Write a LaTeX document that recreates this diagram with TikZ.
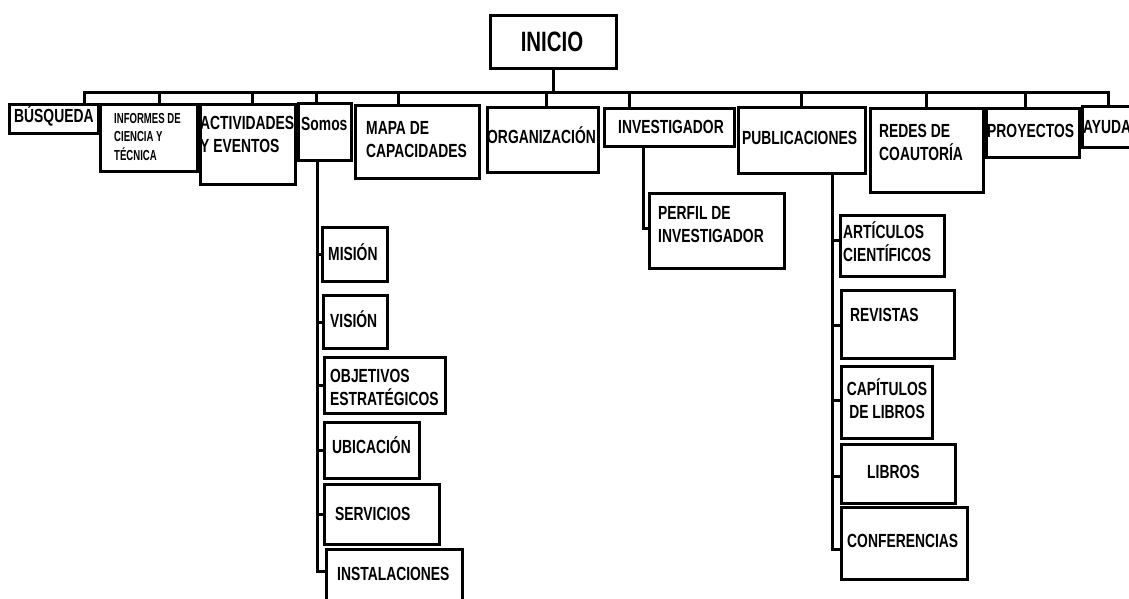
\documentclass[tikz,border=0pt]{standalone}
\usepackage{fontspec}
\newfontfamily\narrowsans{Liberation Sans}[FakeStretch=0.73]
\newfontfamily\narrowersans{Liberation Sans}[FakeStretch=0.66]
% stacked lines whose baseline is the first line
\newcommand\linesL[1]{\begin{tabular}[t]{@{}l@{}}#1\end{tabular}}
\newcommand\linesC[1]{\begin{tabular}[t]{@{}c@{}}#1\end{tabular}}
% box given by its name and its top-left / bottom-right corners
\newcommand\mkbox[5]{\node[box,anchor=north west,minimum width={#4pt-#2pt},minimum height={#5pt-#3pt}] (#1) at (#2,#3) {};}
\begin{document}
\begin{tikzpicture}[x=1pt,y=-1pt,
  box/.style={draw, line width=3pt, inner sep=0pt, fill=white},
  link/.style={line width=3pt, line cap=rect},
  lbl/.style={inner sep=0pt, anchor=base west, font=\narrowsans\bfseries\fontsize{19}{23}\selectfont},
  small/.style={font=\narrowersans\bfseries\fontsize{14.5}{18}\selectfont},
  big/.style={font=\narrowsans\bfseries\fontsize{28}{32}\selectfont}]
\fill[white] (0,0) rectangle (1129,599);
\useasboundingbox (0,0) rectangle (1129,599);

% top level
\mkbox{inicio}{489}{14}{615}{67}
\mkbox{busq}{8}{103}{97}{132}
\mkbox{informes}{99}{103}{196}{170}
\mkbox{activ}{199}{103}{294}{183}
\mkbox{somos}{297}{102}{350}{159}
\mkbox{mapa}{354}{104}{478}{177}
\mkbox{org}{486}{106}{597}{171}
\mkbox{invest}{603}{107}{733}{145}
\mkbox{pub}{737}{106}{864}{172}
\mkbox{redes}{869}{107}{982}{191}
\mkbox{proy}{985}{107}{1078}{156}
\mkbox{ayuda}{1081}{105}{1145}{146}

% under Somos
\mkbox{mision}{321}{226}{386}{280}
\mkbox{vision}{322}{294}{386}{347}
\mkbox{objetivos}{323}{356}{444}{412}
\mkbox{ubicacion}{323}{421}{418}{477}
\mkbox{servicios}{323}{483}{438}{543}
\mkbox{inst}{325}{548}{461}{612}

% under Investigador
\mkbox{perfil}{648}{192}{783}{267}

% under Publicaciones
\mkbox{art}{839}{214}{943}{275}
\mkbox{rev}{840}{289}{953}{357}
\mkbox{cap}{840}{365}{931}{437}
\mkbox{lib}{840}{443}{954}{502}
\mkbox{conf}{840}{506}{966}{578}

% main bus
\coordinate (bus) at (552,93);
\draw[link] (inicio.south) -- (inicio.south |- bus);
\foreach \n/\x in {busq/84, informes/159, activ/252, somos/316, mapa/398, org/546,
                   invest/629, pub/801, redes/926, proy/1025, ayuda/1108} {
  \coordinate (d\n) at (\x,93);
  \draw[link] (d\n) -- (d\n |- \n.north);
}
\draw[link] (dbusq) -- (dayuda);

% Somos branch
\coordinate (sbot) at (317,571);
\draw[link] (sbot |- somos.south) -- (sbot);
\foreach \n in {mision, vision, objetivos, ubicacion, servicios}
  \draw[link] (sbot |- \n.west) -- (\n.west);
\draw[link] (sbot) -- (sbot -| inst.west);

% Investigador branch
\coordinate (pturn) at (643,228);
\draw[link] (pturn |- invest.south) -- (pturn) -- (pturn -| perfil.west);

% Publicaciones branch
\coordinate (pbot) at (832,549);
\draw[link] (pbot |- pub.south) -- (pbot);
\foreach \n/\y in {art/240, rev/325, cap/400, lib/476} {
  \coordinate (t\n) at (832,\y);
  \draw[link] (t\n) -- (t\n -| \n.west);
}
\draw[link] (pbot) -- (pbot -| conf.west);

% texts
\node[lbl, big, anchor=base] (tinicio) at (552,52) {INICIO};
\node[lbl] (tbusq) at (14,123) {BÚSQUEDA};
\node[lbl, small] (tinformes) at (114,124) {\linesL{INFORMES DE\\CIENCIA Y\\TÉCNICA}};
\node[lbl] (tactiv) at (200,130) {\linesL{ACTIVIDADES\\Y EVENTOS}};
\node[lbl] (tsomos) at (301,131) {Somos};
\node[lbl] (tmapa) at (366,135) {\linesL{MAPA DE\\CAPACIDADES}};
\node[lbl] (torg) at (487,143) {ORGANIZACIÓN};
\node[lbl] (tinvest) at (618,133) {INVESTIGADOR};
\node[lbl] (tpub) at (742,144) {PUBLICACIONES};
\node[lbl] (tredes) at (879,137) {\linesL{REDES DE\\COAUTORÍA}};
\node[lbl] (tproy) at (987,137) {PROYECTOS};
\node[lbl] (tayuda) at (1083,134) {AYUDA};

\node[lbl] (tmision) at (328,260) {MISIÓN};
\node[lbl] (tvision) at (330,327) {VISIÓN};
\node[lbl] (tobjetivos) at (330,382) {\linesL{OBJETIVOS\\ESTRATÉGICOS}};
\node[lbl] (tubicacion) at (332,453) {UBICACIÓN};
\node[lbl] (tservicios) at (335,520) {SERVICIOS};
\node[lbl] (tinst) at (337,580) {INSTALACIONES};

\node[lbl] (tperfil) at (658,219) {\linesL{PERFIL DE\\INVESTIGADOR}};

\node[lbl] (tart) at (843,238) {\linesL{ARTÍCULOS\\CIENTÍFICOS}};
\node[lbl] (trev) at (850,321) {REVISTAS};
\node[lbl, anchor=base] (tcap) at (887,395) {\linesC{CAPÍTULOS\\DE LIBROS}};
\node[lbl] (tlib) at (867,478) {LIBROS};
\node[lbl] (tconf) at (847,547) {CONFERENCIAS};
\end{tikzpicture}
\end{document}
